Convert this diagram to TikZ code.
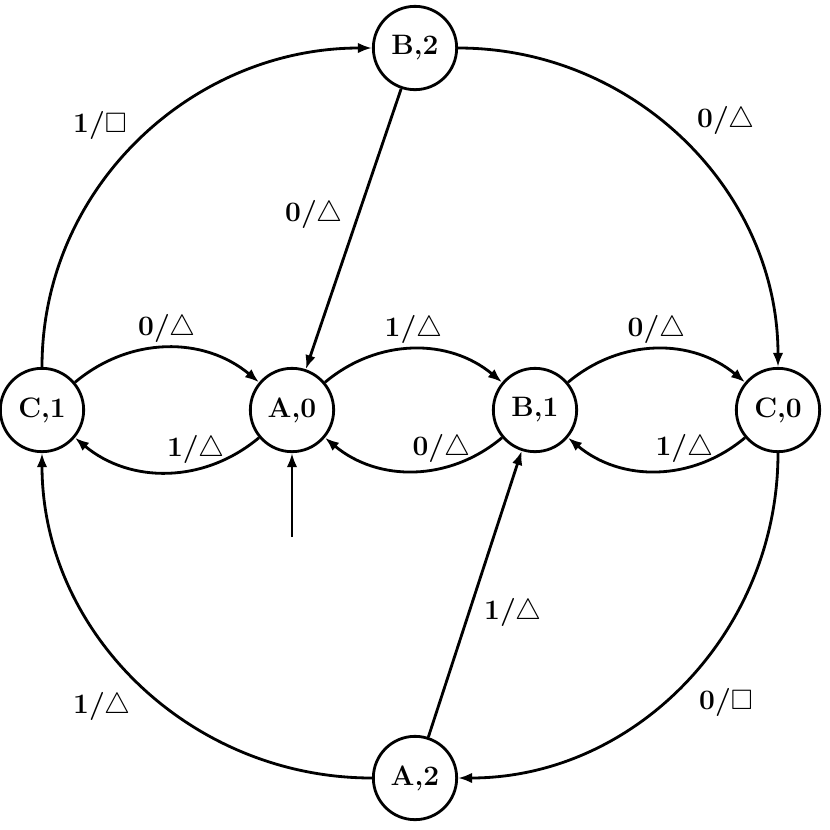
\documentclass[tikz,border=0pt]{standalone}
\usepackage{amssymb}
\usetikzlibrary{arrows.meta}
\begin{document}
\begin{tikzpicture}[x=0.03cm,y=-0.03cm,
  st/.style={circle,draw,line width=2.4pt,minimum size=2.5cm,inner sep=0pt,font=\fontsize{24}{28}\selectfont\bfseries},
  lb/.style={font=\fontsize{24}{28}\selectfont\bfseries},
  every path/.style={line width=2.4pt},
  ed/.style={-{Latex[length=12pt,width=9pt]}}]
\useasboundingbox (0,0) rectangle (830,830);
\node[st] (C1) at (42,410) {C,1};
\node[st] (A0) at (292,410) {A,0};
\node[st] (B1) at (535,410) {B,1};
\node[st] (C0) at (778,410) {C,0};
\node[st] (B2) at (415,48) {B,2};
\node[st] (A2) at (415,778) {A,2};
\coordinate (ini) at (292,537);
\draw[ed] (C1) to[bend left=40] node[lb,above]{0/$\triangle$} (A0);
\draw[ed] (A0) to[bend left=40] node[lb,above,pos=0.35]{1/$\triangle$} (C1);
\draw[ed] (A0) to[bend left=40] node[lb,above]{1/$\triangle$} (B1);
\draw[ed] (B1) to[bend left=40] node[lb,above,pos=0.35]{0/$\triangle$} (A0);
\draw[ed] (B1) to[bend left=40] node[lb,above]{0/$\triangle$} (C0);
\draw[ed] (C0) to[bend left=40] node[lb,above,pos=0.35]{1/$\triangle$} (B1);
\draw[ed] (C1) to[out=90,in=180] (B2);
\draw[ed] (B2) to[out=0,in=90] (C0);
\draw[ed] (C0) to[out=-90,in=0] (A2);
\draw[ed] (A2) to[out=180,in=-90] (C1);
\draw[ed] (B2) -- (A0);
\draw[ed] (A2) -- (B1);
\draw[ed] (ini) -- (A0);
\node[lb] at (100,125) {1/$\square$};
\node[lb] at (726,120) {0/$\triangle$};
\node[lb] at (314,214) {0/$\triangle$};
\node[lb] at (513,612) {1/$\triangle$};
\node[lb] at (726,702) {0/$\square$};
\node[lb] at (102,706) {1/$\triangle$};
\end{tikzpicture}
\end{document}
